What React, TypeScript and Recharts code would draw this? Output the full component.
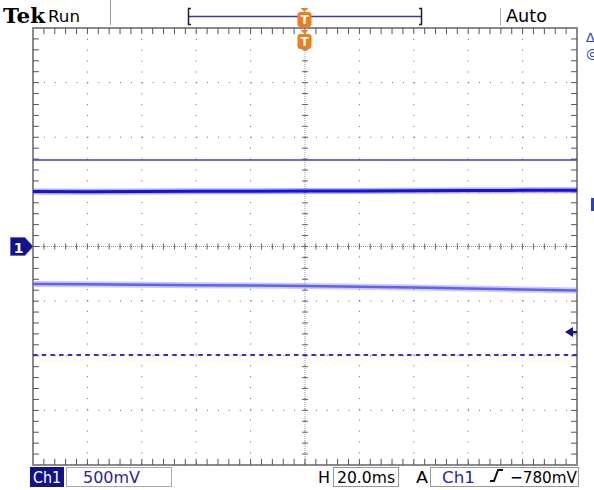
import React from "react";
import { ComposedChart, Line, XAxis, YAxis, CartesianGrid, ReferenceLine, ReferenceArea } from "recharts";

// time axis in divisions (20 ms/div), voltage in volts (500 mV/div)
const TIME_DIVS = [0, 1, 2, 3, 4, 5, 6, 7, 8, 9, 10];
const TRACE_DARK = [0.503, 0.502, 0.504, 0.505, 0.505, 0.507, 0.508, 0.51, 0.512, 0.514, 0.516];
const TRACE_LIGHT = [-0.343, -0.346, -0.349, -0.354, -0.357, -0.362, -0.368, -0.375, -0.384, -0.394, -0.402];
const REF_LEVEL = 0.792;
const DASH_LEVEL = -0.994;

const MAJOR_T = [0, 1, 2, 3, 4, 5, 6, 7, 8, 9, 10];
const MAJOR_V = [-2, -1.5, -1, -0.5, 0, 0.5, 1, 1.5, 2];
const MINOR_T = Array.from({ length: 51 }, (_, i) => +(i * 0.2).toFixed(2));
const MINOR_V = Array.from({ length: 41 }, (_, i) => +(-2 + i * 0.1).toFixed(2));

const data = TIME_DIVS.map((t, i) => ({ t, dark: TRACE_DARK[i], light: TRACE_LIGHT[i] }));

const W = 594;
const H = 490;
const FONT = "'DejaVu Sans', Verdana, sans-serif";
const NAVY = "#12128c";
const ORANGE = "#f07d1a";

// tick half-lengths in data units (~3px)
const TX = 0.055;
const TV = 0.028;

const TrigMarker = ({ x, y }: { x: number; y: number }) => (
	<g>
		<path d={`M${x - 4},${y} L${x + 4},${y} L${x},${y + 4} Z`} fill={ORANGE} />
		<rect x={x - 7} y={y + 4} width={14} height={15} rx={3} fill={ORANGE} />
		<text x={x} y={y + 16} fontFamily={FONT} fontSize={12} fontWeight="bold" fill="#fff" textAnchor="middle">
			T
		</text>
	</g>
);

const Overlay = () => (
	<svg width={W} height={H} style={{ position: "absolute", left: 0, top: 0, pointerEvents: "none" }}>
		{/* header */}
		<text x={3} y={23} fontFamily="'DejaVu Serif', serif" fontWeight="bold" fontSize={20} textLength={42} lengthAdjust="spacingAndGlyphs">
			Tek
		</text>
		<text x={48} y={22} fontFamily={FONT} fontSize={16} textLength={32} lengthAdjust="spacingAndGlyphs">
			Run
		</text>
		<line x1={110.5} y1={0} x2={110.5} y2={25} stroke="#999" />
		<line x1={189} y1={16.5} x2={422} y2={16.5} stroke="#3a3aa8" strokeWidth={1.5} />
		<path d="M191,8.5 L188.5,8.5 L188.5,24.5 L191,24.5" fill="none" stroke="#222" strokeWidth={1.5} />
		<path d="M419,8.5 L421.5,8.5 L421.5,24.5 L419,24.5" fill="none" stroke="#222" strokeWidth={1.5} />
		<line x1={500.5} y1={8} x2={500.5} y2={25} stroke="#aaa" />
		<text x={506} y={22} fontFamily={FONT} fontSize={17} textLength={41} lengthAdjust="spacingAndGlyphs">
			Auto
		</text>
		<TrigMarker x={304.5} y={8} />
		<TrigMarker x={304.5} y={30} />

		{/* right side indicators (cut off at the screen edge) */}
		<text x={586} y={42} fontFamily={FONT} fontSize={13} fill="#2a40c0">
			∆
		</text>
		<text x={586} y={58} fontFamily={FONT} fontSize={13} fill="#2a40c0">
			@
		</text>
		<rect x={591} y={198} width={3} height={13} fill="#2a40c0" />
		<path d="M565,332 L573,327 L573,337 Z" fill={NAVY} />
		<line x1={572} y1={332} x2={577} y2={332} stroke={NAVY} strokeWidth={2} />

		{/* channel 1 ground marker */}
		<path d="M10.5,237.5 L25,237.5 L33,246.5 L25,255.5 L10.5,255.5 Z" fill={NAVY} stroke="#6a6ad0" />
		<text x={18.5} y={252.5} fontFamily={FONT} fontSize={14} fontWeight="bold" fill="#fff" textAnchor="middle">
			1
		</text>

		{/* footer */}
		<rect x={30} y={467} width={34} height={20} fill={NAVY} />
		<text x={33} y={483} fontFamily={FONT} fontSize={16} fill="#fff" textLength={28} lengthAdjust="spacingAndGlyphs">
			Ch1
		</text>
		<rect x={66.5} y={467.5} width={105} height={19} fill="none" stroke="#aaa" />
		<text x={83} y={483} fontFamily={FONT} fontSize={16} fill="#2626a8" textLength={57} lengthAdjust="spacingAndGlyphs">
			500mV
		</text>
		<text x={318} y={483} fontFamily={FONT} fontSize={16} textLength={12} lengthAdjust="spacingAndGlyphs">
			H
		</text>
		<rect x={333.5} y={467.5} width={65} height={19} fill="none" stroke="#999" />
		<text x={337} y={483} fontFamily={FONT} fontSize={16} textLength={58} lengthAdjust="spacingAndGlyphs">
			20.0ms
		</text>
		<text x={416} y={483} fontFamily={FONT} fontSize={16} textLength={12} lengthAdjust="spacingAndGlyphs">
			A
		</text>
		<rect x={430.5} y={467.5} width={148} height={19} fill="none" stroke="#999" />
		<text x={442} y={483} fontFamily={FONT} fontSize={16} fill="#2626a8" textLength={33} lengthAdjust="spacingAndGlyphs">
			Ch1
		</text>
		<path d="M490,481 L494,481 L498,470 L503,470" fill="none" stroke="#111" strokeWidth={2} />
		<text x={510} y={483} fontFamily={FONT} fontSize={16} textLength={67} lengthAdjust="spacingAndGlyphs">
			−780mV
		</text>
	</svg>
);

export default function App() {
	const innerT = MINOR_T.filter((t) => t > 0 && t < 10);
	const innerV = MINOR_V.filter((v) => v > -2 && v < 2);
	return (
		<div style={{ position: "absolute", left: 0, top: 0, width: W, height: H, background: "#fff" }}>
			<ComposedChart width={W} height={H} data={data} margin={{ top: 28, right: 17, bottom: 25, left: 33 }}>
				<XAxis xAxisId="x" type="number" dataKey="t" domain={[0, 10]} ticks={MAJOR_T} hide />
				<YAxis yAxisId="y" type="number" domain={[-2, 2]} ticks={MAJOR_V} hide />

				<CartesianGrid xAxisId="x" yAxisId="y" stroke="#666" strokeDasharray="1 9.88" />

				{/* center crosshair */}
				<ReferenceLine xAxisId="x" yAxisId="y" x={5} stroke="#999" strokeDasharray="1 1" />
				<ReferenceLine xAxisId="x" yAxisId="y" y={0} stroke="#999" strokeDasharray="1 1" />
				{innerT.map((t) => (
					<ReferenceLine key={`ct${t}`} xAxisId="x" yAxisId="y" stroke="#666"
						segment={[{ x: t, y: -TV }, { x: t, y: TV }]} />
				))}
				{innerV.map((v) => (
					<ReferenceLine key={`cv${v}`} xAxisId="x" yAxisId="y" stroke="#666"
						segment={[{ x: 5 - TX, y: v }, { x: 5 + TX, y: v }]} />
				))}

				{/* graticule border with inward ticks */}
				{innerT.map((t) => (
					<ReferenceLine key={`bt${t}`} xAxisId="x" yAxisId="y" stroke="#555"
						segment={[{ x: t, y: 2 }, { x: t, y: 2 - 2 * TV }]} />
				))}
				{innerT.map((t) => (
					<ReferenceLine key={`bb${t}`} xAxisId="x" yAxisId="y" stroke="#555"
						segment={[{ x: t, y: -2 }, { x: t, y: -2 + 2 * TV }]} />
				))}
				{innerV.map((v) => (
					<ReferenceLine key={`bl${v}`} xAxisId="x" yAxisId="y" stroke="#555"
						segment={[{ x: 0, y: v }, { x: 2 * TX, y: v }]} />
				))}
				{innerV.map((v) => (
					<ReferenceLine key={`br${v}`} xAxisId="x" yAxisId="y" stroke="#555"
						segment={[{ x: 10, y: v }, { x: 10 - 2 * TX, y: v }]} />
				))}
				<ReferenceArea xAxisId="x" yAxisId="y" x1={0} x2={10} y1={-2} y2={2} fill="none" fillOpacity={0}
					stroke="#8a8a8a" strokeWidth={2} />

				{/* stored reference level and trigger level */}
				<ReferenceLine xAxisId="x" yAxisId="y" y={REF_LEVEL} stroke="#3c3cd0" strokeWidth={1.5} />
				<ReferenceLine xAxisId="x" yAxisId="y" y={DASH_LEVEL} stroke="#3434b4" strokeWidth={2} strokeDasharray="4.5 4.2" />

				{/* traces */}
				<Line xAxisId="x" yAxisId="y" dataKey="light" stroke="#8a8aff" strokeOpacity={0.45} strokeWidth={6} dot={false} isAnimationActive={false} />
				<Line xAxisId="x" yAxisId="y" dataKey="light" stroke="#6262f0" strokeWidth={2.5} dot={false} isAnimationActive={false} />
				<Line xAxisId="x" yAxisId="y" dataKey="dark" stroke="#3a3aff" strokeOpacity={0.4} strokeWidth={6} dot={false} isAnimationActive={false} />
				<Line xAxisId="x" yAxisId="y" dataKey="dark" stroke="#1414d6" strokeWidth={3} dot={false} isAnimationActive={false} />
			</ComposedChart>
			<Overlay />
		</div>
	);
}
